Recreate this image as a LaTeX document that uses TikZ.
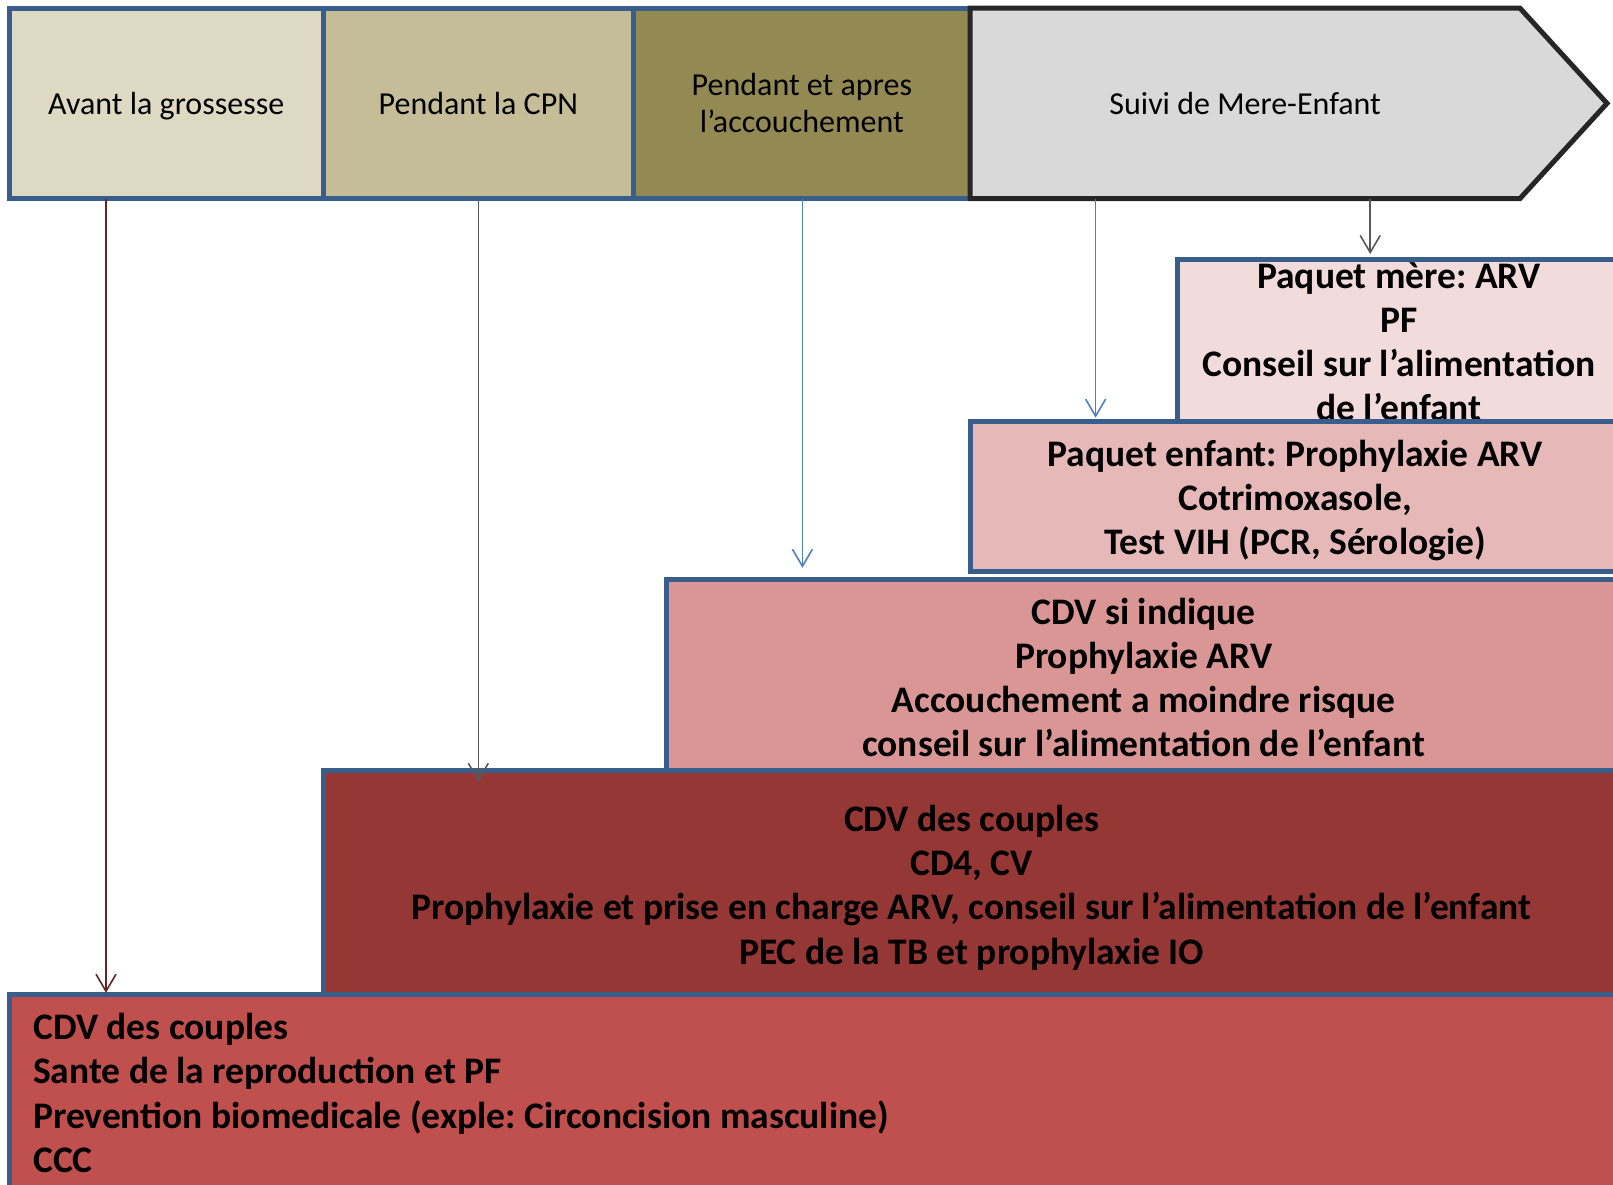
\documentclass[tikz,border=0pt]{standalone}
\usepackage{fontspec}
\setmainfont{Carlito}
\frenchspacing
\usetikzlibrary{arrows.meta}
\definecolor{edge}{HTML}{3A5E8C}
\definecolor{hdrA}{HTML}{DDD9C3}
\definecolor{hdrB}{HTML}{C4BD97}
\definecolor{hdrC}{HTML}{938953}
\definecolor{hdrD}{HTML}{D9D9D9}
\definecolor{packA}{HTML}{F2DCDB}
\definecolor{packB}{HTML}{E6B9B8}
\definecolor{packC}{HTML}{D99694}
\definecolor{packD}{HTML}{953735}
\definecolor{packE}{HTML}{C0504D}
\definecolor{arrRed}{HTML}{632523}
\definecolor{arrGray}{HTML}{595959}
\definecolor{arrBlue}{HTML}{4F81BD}
\begin{document}
\begin{tikzpicture}[x=1pt,y=-1pt,
	frame/.style={draw=edge, line width=5pt, outer sep=0pt, inner sep=0pt, anchor=north west},
	hdr/.style={frame, minimum height=190.3pt, font=\fontsize{32}{37}\selectfont, align=center},
	pack/.style={frame},
	txt/.style={inner sep=0pt, font=\fontsize{37.5}{44.2}\selectfont\bfseries, align=center},
	arr/.style={-{Straight Barb[length=17pt,width=20pt]}, line width=1.6pt}]
	\useasboundingbox (0,0) rectangle (1613,1184);
	\clip (0,0) rectangle (1613,1184);
	% phases
	\node[hdr, fill=hdrA, minimum width=313.7pt, text depth=0pt] (h1) at (9.3,8.2) {Avant la grossesse};
	\node[hdr, fill=hdrB, minimum width=310.7pt] (h2) at (323,8.2) {Pendant la CPN};
	\node[hdr, fill=hdrC, minimum width=336.3pt] (h3) at (633.7,8.2) {Pendant et apres\\l’accouchement};
	\draw[line width=5pt, draw=black!85, fill=hdrD] (970,8.2) -- (1520,8.2) -- (1607,103.35) -- (1520,198.5) -- (970,198.5) -- cycle;
	\node[anchor=north west, inner sep=0pt, minimum width=550pt, minimum height=190.3pt,
		font=\fontsize{32}{37}\selectfont] (h4) at (970,8.2) {Suivi de Mere-Enfant};
	% packages
	\node[pack, fill=packA, minimum width=442pt, minimum height=165pt] (mere) at (1177.9,259.2) {};
	\node[txt] (mereTxt) at (mere.center) {Paquet mère: ARV\\PF\\Conseil sur l’alimentation\\de l’enfant};
	\node[pack, fill=packB, minimum width=650pt, minimum height=150pt] (enfant) at (970,421.8) {};
	\node[txt] (enfantTxt) at ([yshift=-4pt]enfant.center) {Paquet enfant: Prophylaxie ARV\\Cotrimoxasole,\\Test VIH (PCR, Sérologie)};
	\node[pack, fill=packC, minimum width=954pt, minimum height=191.3pt] (cdv) at (666.6,579.2) {};
	\node[txt] (cdvTxt) at ([yshift=-2.5pt]cdv.center)
		{CDV si indique\\Prophylaxie ARV\\Accouchement a moindre risque\\conseil sur l’alimentation de l’enfant};
	\node[pack, fill=packD, minimum width=1297pt, minimum height=224.3pt] (couples) at (323,770.5) {};
	\node[txt] (couplesTxt) at ([yshift=-5pt]couples.center)
		{CDV des couples\\CD4, CV\\Prophylaxie et prise en charge ARV, conseil sur l’alimentation de l’enfant\\PEC de la TB et prophylaxie IO};
	\node[pack, fill=packE, minimum width=1640pt, minimum height=220pt] (bot) at (9.3,994.8) {};
	\node[txt, anchor=west, align=left] (botTxt) at (33,1093)
		{CDV des couples\\Sante de la reproduction et PF\\Prevention biomedicale (exple: Circoncision masculine)\\CCC};
	% arrows
	\coordinate (xa) at (106,0);
	\coordinate (xb) at (478.3,0);
	\coordinate (xc) at (802.4,0);
	\coordinate (xd) at (1095.6,0);
	\coordinate (xe) at (1370.2,0);
	\draw[arr, arrRed] (h1.south -| xa) -- ([yshift=2pt]bot.north -| xa);
	\draw[arr, arrGray] (h2.south -| xb) -- ([yshift=-11.3pt]couples.north -| xb);
	\draw[arr, arrBlue] (h3.south -| xc) -- ([yshift=11.4pt]cdv.north -| xc);
	\draw[arr, arrBlue] (h4.south -| xd) -- ([yshift=4.1pt]enfant.north -| xd);
	\draw[arr, arrGray] (h4.south -| xe) -- ([yshift=5.2pt]mere.north -| xe);
\end{tikzpicture}
\end{document}
